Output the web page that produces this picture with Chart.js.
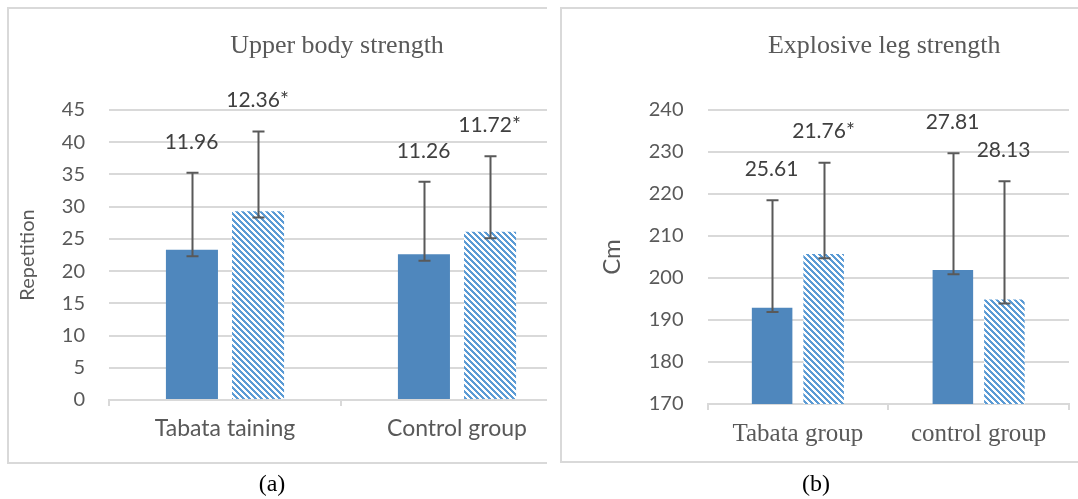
<!DOCTYPE html>
<html>
<head>
<meta charset="utf-8">
<script src="https://cdn.jsdelivr.net/npm/chart.js@4.4.0/dist/chart.umd.min.js"></script>
<style>
  html, body { margin: 0; padding: 0; background: #fff; }
  body { width: 1078px; height: 499px; position: relative; overflow: hidden; }
  .panel { position: absolute; top: 0; height: 499px; overflow: hidden; }
  #panelA { left: 0; width: 547px; }
  #panelB { left: 540px; width: 538px; }
  .frame { position: absolute; border: 2px solid #d9d9d9; box-sizing: border-box; }
  #panelA .frame { left: 7px; top: 7px; width: 600px; height: 457px; }
  #panelB .frame { left: 20px; top: 7px; width: 600px; height: 456px; }
  canvas { position: absolute; left: 0; top: 0; }
  .caption { position: absolute; top: 470px; font-family: "Liberation Serif", serif; font-size: 24px; color: #000; transform: translateX(-50%); }
</style>
</head>
<body>
<div class="panel" id="panelA">
  <div class="frame"></div>
  <canvas id="upper" width="600" height="499"></canvas>
</div>
<div class="panel" id="panelB">
  <div class="frame"></div>
  <canvas id="leg" width="538" height="499"></canvas>
</div>
<div class="caption" style="left:272px">(a)</div>
<div class="caption" style="left:816px">(b)</div>

<script>
// ---- Upper body strength (repetitions) ----
const upperCategories = ['Tabata taining', 'Control group'];
const upperPre  = [23.3, 22.6];
const upperPost = [29.3, 26.1];
const upperPreSD  = [11.96, 11.26];
const upperPostSD = [12.36, 11.72];
const upperPreMark  = ['', ''];
const upperPostMark = ['*', '*'];
const upperTicks = [0, 5, 10, 15, 20, 25, 30, 35, 40, 45];

// ---- Explosive leg strength (cm) ----
const legCategories = ['Tabata group', 'control group'];
const legPre  = [192.9, 201.9];
const legPost = [205.7, 194.9];
const legPreSD  = [25.61, 27.81];
const legPostSD = [21.76, 28.13];
const legPreMark  = ['', ''];
const legPostMark = ['*', ''];
const legTicks = [170, 180, 190, 200, 210, 220, 230, 240];

// Error bars reach one unit below the bar top.
const LOWER_ERR = 1;

const SOLID = '#4f87bd';
const HATCH = '#5b9bd5';
const GRID = '#d9d9d9';
const TEXT = '#595959';
const SANS = 'Lato, "Open Sans", sans-serif';
const SERIF = '"Liberation Serif", "Times New Roman", serif';

function hatchPattern(ctx, color) {
  const n = 6;
  const c = document.createElement('canvas');
  c.width = n; c.height = n;
  const g = c.getContext('2d');
  g.fillStyle = '#ffffff';
  g.fillRect(0, 0, n, n);
  g.fillStyle = color;
  for (let y = 0; y < n; y++) {
    for (let x = 0; x < n; x++) {
      if ((((x - y) % n) + n) % n < 3) g.fillRect(x, y, 1, 1);
    }
  }
  return ctx.createPattern(c, 'repeat');
}

// Titles, axis titles, error bars and SD labels
const decorations = {
  id: 'decorations',
  afterDatasetsDraw(chart, args, opts) {
    const { ctx, chartArea, scales: { y } } = chart;
    ctx.save();
    // error bars
    chart.data.datasets.forEach((ds, di) => {
      const meta = chart.getDatasetMeta(di);
      meta.data.forEach((bar, i) => {
        const v = ds.data[i];
        const top = y.getPixelForValue(v + ds.sd[i]);
        const low = y.getPixelForValue(v - LOWER_ERR);
        const x = Math.round(bar.x) + 0.5;
        ctx.strokeStyle = '#595959';
        ctx.lineWidth = 2;
        ctx.beginPath();
        ctx.moveTo(x, top); ctx.lineTo(x, low);
        ctx.moveTo(x - 6, top); ctx.lineTo(x + 6, top);
        ctx.moveTo(x - 6, low); ctx.lineTo(x + 6, low);
        ctx.stroke();
        // SD label above the error bar
        ctx.fillStyle = '#404040';
        ctx.font = '21px ' + SANS;
        ctx.textAlign = 'center';
        ctx.textBaseline = 'middle';
        ctx.fillText(ds.sd[i].toFixed(2) + ds.marks[i], x - 1, top - 31);
      });
    });
    // chart title
    ctx.fillStyle = TEXT;
    ctx.font = '26px ' + SERIF;
    ctx.textAlign = 'center';
    ctx.textBaseline = 'middle';
    ctx.fillText(opts.title, (chartArea.left + chartArea.right) / 2 - 4, 46);
    // y-axis title
    ctx.font = opts.yTitleSize + 'px ' + SANS;
    ctx.translate(opts.yTitleX, (chartArea.top + chartArea.bottom) / 2);
    ctx.rotate(-Math.PI / 2);
    ctx.fillText(opts.yTitle, 0, 0);
    ctx.restore();
  }
};

function buildChart(id, cfg) {
  const canvas = document.getElementById(id);
  const ctx = canvas.getContext('2d');
  return new Chart(ctx, {
    type: 'bar',
    data: {
      labels: cfg.categories,
      datasets: [
        { data: cfg.pre, sd: cfg.preSD, marks: cfg.preMark, backgroundColor: SOLID,
          categoryPercentage: 0.57, barPercentage: 0.787 },
        { data: cfg.post, sd: cfg.postSD, marks: cfg.postMark, backgroundColor: hatchPattern(ctx, HATCH),
          categoryPercentage: 0.57, barPercentage: 0.787 }
      ]
    },
    options: {
      responsive: false,
      animation: false,
      devicePixelRatio: 1,
      layout: { padding: { top: cfg.top, right: cfg.padRight, bottom: 0, left: 0 } },
      plugins: {
        legend: { display: false },
        tooltip: { enabled: false },
        title: { display: false },
        decorations: { title: cfg.title, yTitle: cfg.yTitle, yTitleX: cfg.yTitleX, yTitleSize: cfg.yTitleSize }
      },
      scales: {
        x: {
          offset: true,
          grid: { display: true, offset: true, drawOnChartArea: false, drawTicks: true, tickLength: 6, color: GRID, lineWidth: 2 },
          border: { display: true, color: GRID, width: 2 },
          ticks: { color: TEXT, font: { family: cfg.xFont, size: cfg.xSize }, padding: 9, maxRotation: 0, autoSkip: false },
          afterFit(scale) { scale.height = cfg.xHeight; }
        },
        y: {
          min: cfg.ticks[0],
          max: cfg.ticks[cfg.ticks.length - 1],
          afterBuildTicks(scale) { scale.ticks = cfg.ticks.map(v => ({ value: v })); },
          grid: { color: GRID, lineWidth: 2, drawTicks: false },
          border: { display: false },
          ticks: { color: TEXT, font: { family: SANS, size: 20 }, padding: 24 },
          afterFit(scale) { scale.width = cfg.yWidth; }
        }
      }
    },
    plugins: [decorations]
  });
}

buildChart('upper', {
  categories: upperCategories,
  pre: upperPre, post: upperPost,
  preSD: upperPreSD, postSD: upperPostSD,
  preMark: upperPreMark, postMark: upperPostMark,
  ticks: upperTicks,
  title: 'Upper body strength',
  yTitle: 'Repetition', yTitleX: 28, yTitleSize: 20,
  xFont: SANS, xSize: 23,
  top: 110, padRight: 27, yWidth: 109, xHeight: 99
});

buildChart('leg', {
  categories: legCategories,
  pre: legPre, post: legPost,
  preSD: legPreSD, postSD: legPostSD,
  preMark: legPreMark, postMark: legPostMark,
  ticks: legTicks,
  title: 'Explosive leg strength',
  yTitle: 'Cm', yTitleX: 72, yTitleSize: 24,
  xFont: SERIF, xSize: 25,
  top: 110, padRight: 9, yWidth: 167.5, xHeight: 95
});
</script>
</body>
</html>
